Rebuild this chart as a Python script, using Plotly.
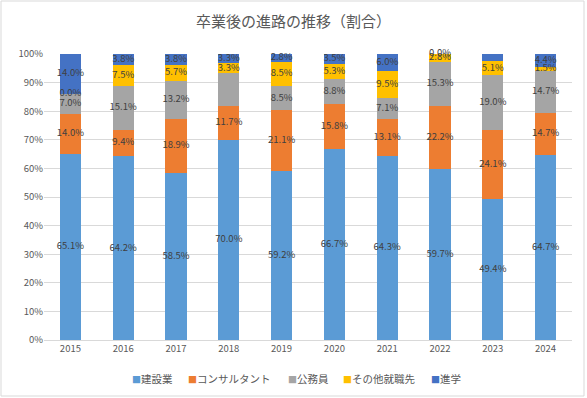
import plotly.graph_objects as go

years = ["2015", "2016", "2017", "2018", "2019", "2020", "2021", "2022", "2023", "2024"]
construction = [65.1, 64.2, 58.5, 70.0, 59.2, 66.7, 64.3, 59.7, 49.4, 64.7]
consultant = [14.0, 9.4, 18.9, 11.7, 21.1, 15.8, 13.1, 22.2, 24.1, 14.7]
civil = [7.0, 15.1, 13.2, 11.7, 8.5, 8.8, 7.1, 15.3, 19.0, 14.7]
other = [0.0, 7.5, 5.7, 3.3, 8.5, 5.3, 9.5, 2.8, 5.1, 1.5]
further = [14.0, 3.8, 3.8, 3.3, 2.8, 3.5, 6.0, 0.0, 2.4, 4.4]

# which labels are shown (reference hides two)
show_civil = [True, True, True, False, True, True, True, True, True, True]
show_further = [True, True, True, True, True, True, True, True, False, True]

names = ["建設業", "コンサルタント", "公務員", "その他就職先", "進学"]
colors = ["#5B9BD5", "#ED7D31", "#A5A5A5", "#FFC000", "#4472C4"]
series = [construction, consultant, civil, other, further]
shows = [[True] * 10, [True] * 10, show_civil, [True] * 10, show_further]

FONT = "Noto Sans CJK JP, Noto Sans, sans-serif"

fig = go.Figure()
for name, color, vals in zip(names, colors, series):
    fig.add_trace(go.Bar(
        x=years, y=[v / 100 for v in vals], name=name,
        marker=dict(color=color, line=dict(width=0)),
        hoverinfo="skip", showlegend=False,
    ))

# data labels at segment midpoints
base = [0.0] * 10
lx, ly, lt = [], [], []
for vals, sh in zip(series, shows):
    for i, v in enumerate(vals):
        mid = (base[i] + v / 2) / 100
        if sh[i]:
            lx.append(years[i]); ly.append(mid); lt.append(f"{v:.1f}%")
        base[i] += v
fig.add_trace(go.Scatter(
    x=lx, y=ly, text=lt, mode="text", showlegend=False, hoverinfo="skip",
    textfont=dict(family=FONT, size=9.5, color="#404040"),
    cliponaxis=False,
))

W, H = 587, 398
ml, mr, mt, mb = 44, 15, 54, 58
pw, ph = W - ml - mr, H - mt - mb

# legend: one text item per series, square + name, laid out left-to-right
legend_px = [130, 186, 286, 341, 429]
leg_y = -(378 - (mt + ph)) / ph
annotations = []
for n, c, px in zip(names, colors, legend_px):
    annotations.append(dict(
        text=f"<span style='color:{c};font-size:9px'>■</span>{n}",
        xref="paper", yref="paper", x=(px - ml) / pw, y=leg_y,
        xanchor="left", yanchor="middle", showarrow=False,
        font=dict(family=FONT, size=10.5, color="#595959")))

fig.update_layout(
    width=W, height=H,
    barmode="stack", bargap=0.6,
    margin=dict(l=ml, r=mr, t=mt, b=mb),
    paper_bgcolor="white", plot_bgcolor="white",
    font=dict(family=FONT, color="#595959"),
    title=dict(text="卒業後の進路の推移（割合）", x=0.5, xanchor="center", y=1 - 22 / H, yanchor="middle",
               font=dict(size=15, color="#595959")),
    xaxis=dict(showgrid=False, showline=True, linecolor="#D9D9D9", linewidth=1, ticks="",
               tickfont=dict(size=9.5, color="#595959")),
    yaxis=dict(range=[0, 1], tickvals=[i / 10 for i in range(11)], tickformat=".0%",
               showgrid=True, gridcolor="#D9D9D9", gridwidth=1, zeroline=False,
               tickfont=dict(size=9.5, color="#595959"), ticks="", ticklen=0),
    showlegend=False,
    annotations=annotations,
    shapes=[dict(type="rect", xref="paper", yref="paper",
                 x0=(1 - ml) / pw, x1=(584 - ml) / pw,
                 y0=(H - 396 - mb) / ph, y1=(H - 1 - mb) / ph,
                 line=dict(color="#D9D9D9", width=1), fillcolor="rgba(0,0,0,0)", layer="below")],
)

fig.write_html("out.html", config={"displayModeBar": False},
               post_script="document.body.style.margin='0';document.body.style.padding='0';")
